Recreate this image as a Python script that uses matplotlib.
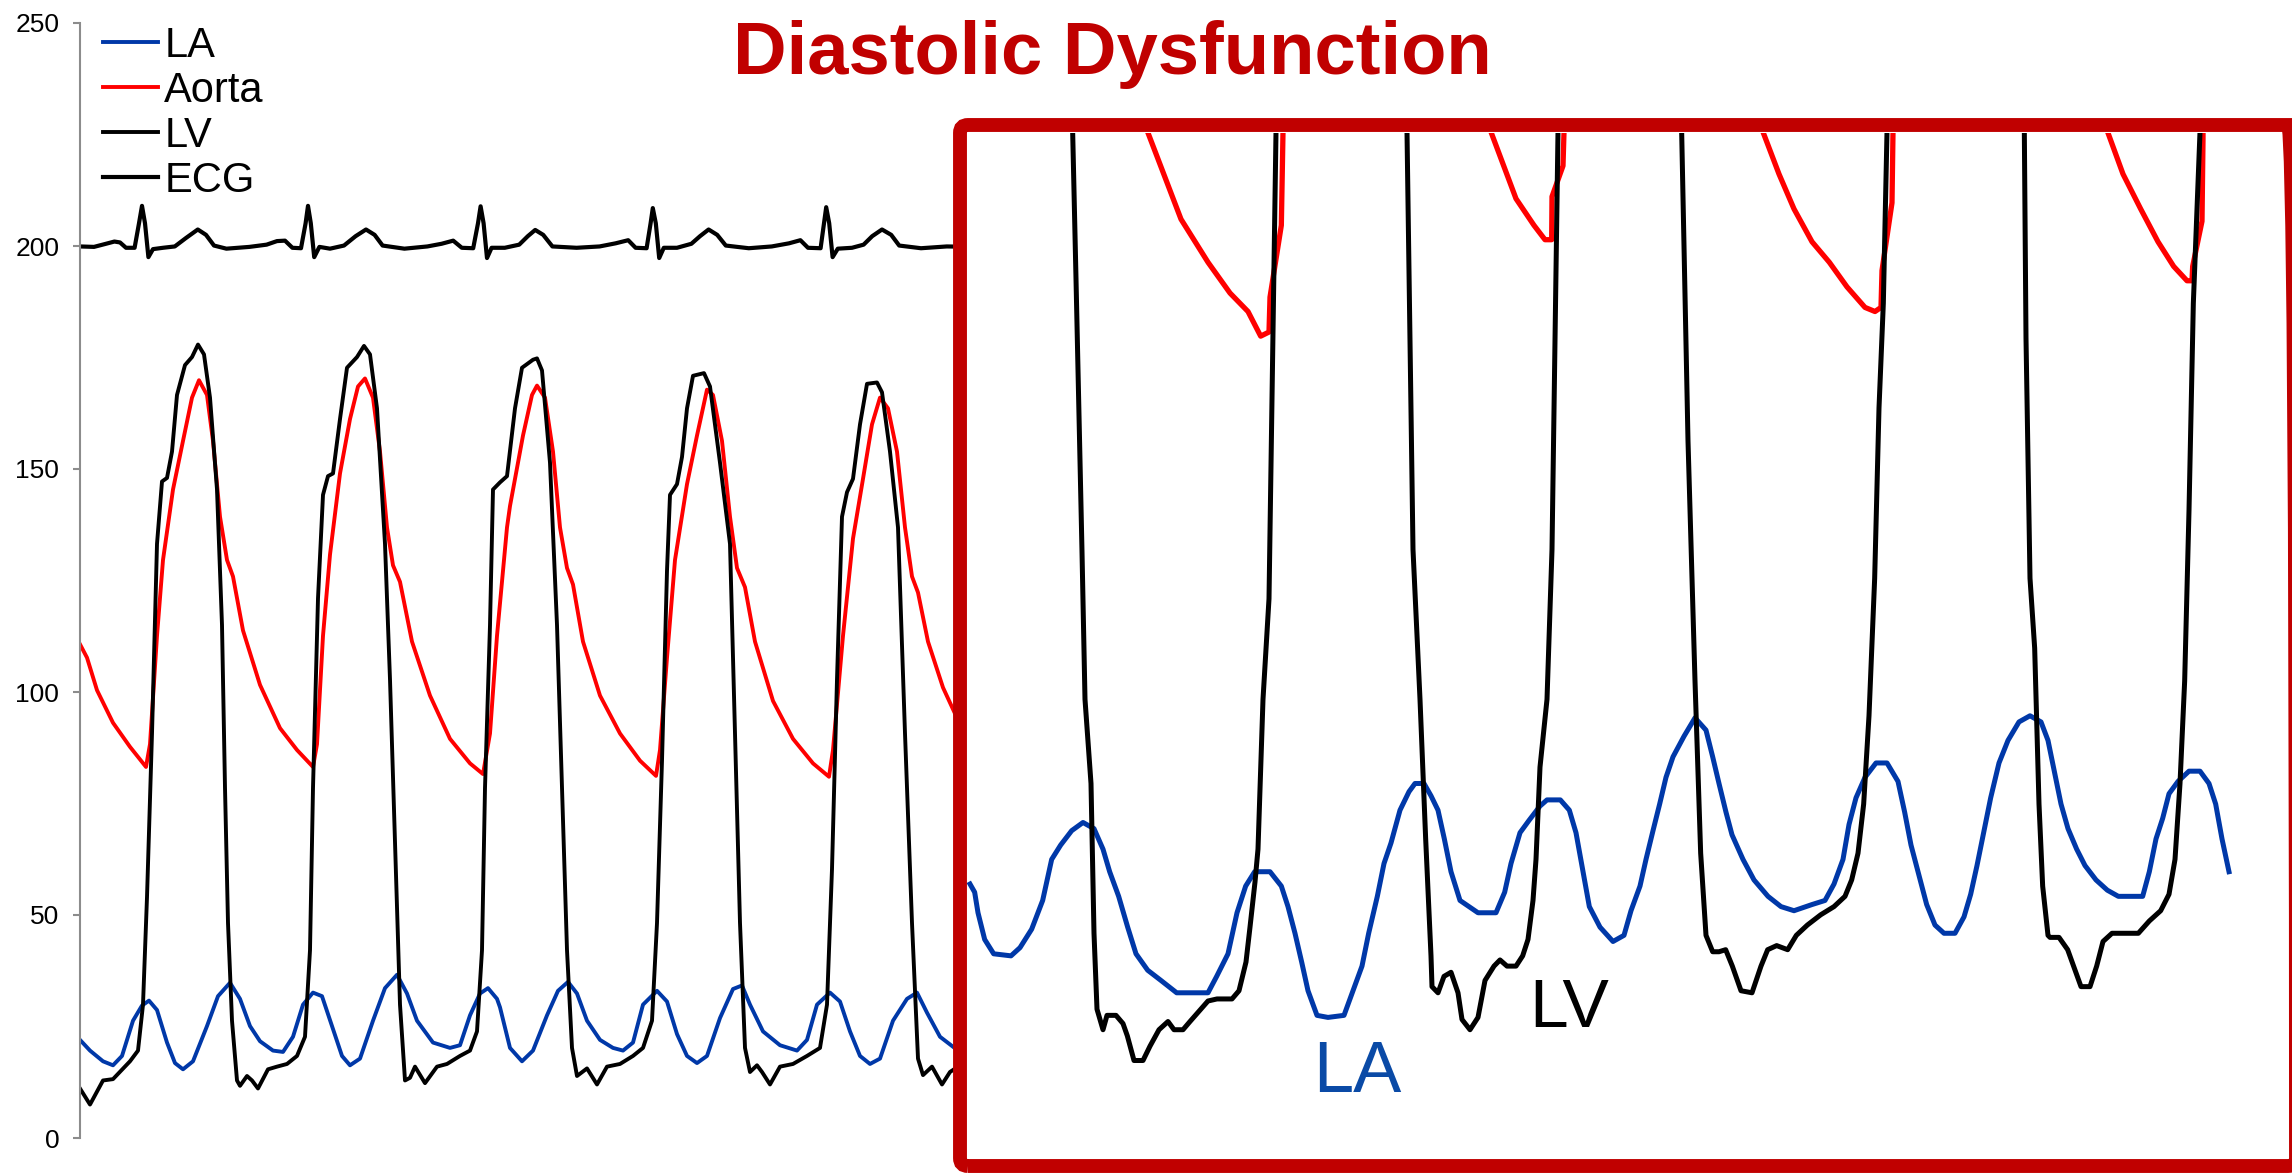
import matplotlib
matplotlib.use("Agg")
import matplotlib.pyplot as plt
from matplotlib.patches import FancyBboxPatch

plt.rcParams['font.family'] = ['Liberation Sans', 'DejaVu Sans']

# ---- main chart (time in ms, pressure in mmHg) ----
lv_t = [0, 50, 115, 165, 250, 290, 315, 335, 360, 385, 410, 435, 460, 485, 525, 560, 590, 620, 650, 685,
        710, 725, 740, 760, 785, 800, 835, 860, 890, 940, 985, 1035, 1085, 1125, 1150, 1165, 1190, 1215,
        1240, 1265, 1300, 1335, 1385, 1420, 1450, 1485, 1525, 1550, 1575, 1600, 1625, 1650, 1675, 1725,
        1785, 1835, 1900, 1950, 1985, 2010, 2025, 2050, 2065, 2100, 2135, 2175, 2210, 2265, 2285, 2310,
        2350, 2385, 2410, 2435, 2460, 2485, 2535, 2585, 2635, 2700, 2765, 2815, 2860, 2885, 2910, 2935,
        2950, 2985, 3010, 3035, 3065, 3120, 3150, 3200, 3250, 3275, 3300, 3325, 3350, 3385, 3410, 3450,
        3500, 3565, 3635, 3700, 3735, 3760, 3785, 3810, 3835, 3865, 3900, 3935, 3985, 4010, 4050, 4090,
        4125, 4160, 4190, 4215, 4260, 4310, 4350, 4390, 4450, 4525]
lv_p = [11.1, 7.5, 12.9, 13.2, 17.2, 19.6, 29.9, 54, 90.7, 133.2, 147.2, 148, 153.9, 166.6, 173.3, 175.1,
        177.9, 175.7, 166, 145.4, 115, 78.5, 48.2, 26.3, 12.9, 11.7, 13.9, 12.9, 11.1, 15.4, 16, 16.6, 18.4,
        22.7, 42.1, 78.5, 121, 144.2, 148.4, 149, 161.2, 172.7, 175.1, 177.6, 175.7, 163.6, 133.2, 102.8,
        66.4, 29.9, 12.9, 13.5, 16, 12.3, 16, 16.6, 18.4, 19.6, 23.9, 42.1, 78.5, 115, 145.4, 147, 148.4,
        163.6, 172.7, 174.5, 174.8, 172.1, 151.4, 115, 78.5, 42.1, 20.2, 13.9, 15.6, 12, 16, 16.6, 18.4,
        20.2, 26.3, 48.2, 84.6, 127.2, 144.2, 146.6, 152.7, 163.6, 170.9, 171.5, 168.5, 151.4, 133.2, 90.7,
        48.2, 20.2, 14.8, 16.3, 14.8, 12, 16, 16.6, 18.4, 20.2, 29.9, 60.3, 102.8, 139.3, 144.8, 147.8, 160,
        169.1, 169.4, 167.2, 153.9, 136.9, 90.7, 48.2, 17.8, 14.1, 16, 12, 14.8, 16, 17, 19]

ao_t = [0, 35, 85, 165, 250, 330, 350, 385, 415, 465, 515, 560, 595, 635, 665, 700, 735, 765, 815, 900,
        1000, 1085, 1165, 1185, 1215, 1250, 1300, 1350, 1390, 1425, 1465, 1500, 1535, 1565, 1600, 1660,
        1750, 1850, 1950, 2015, 2050, 2085, 2135, 2150, 2215, 2260, 2285, 2325, 2365, 2400, 2435, 2465,
        2515, 2600, 2700, 2800, 2880, 2900, 2935, 2975, 3035, 3085, 3135, 3165, 3210, 3250, 3285, 3325,
        3375, 3465, 3565, 3665, 3745, 3765, 3815, 3865, 3915, 3960, 4000, 4040, 4085, 4125, 4160, 4190,
        4240, 4315, 4390, 4475]
ao_p = [110.7, 107.7, 100.4, 93.1, 87.7, 83.2, 88.3, 112.6, 129.6, 145.4, 156.3, 166, 169.9, 166.6, 156.3,
        139.3, 129.6, 125.9, 113.8, 101.6, 91.9, 87, 83.2, 88.3, 112.6, 130.8, 149, 161.2, 168.5, 170.3,
        166, 153.9, 136.9, 128.4, 124.7, 111.3, 99.2, 89.5, 84, 81.6, 90.7, 112.6, 136.9, 141.7, 157.5,
        166.6, 168.7, 166, 153.9, 136.9, 127.8, 124.1, 111.3, 99.2, 90.7, 84.6, 81.2, 87, 107.7, 129.6,
        146.6, 157.5, 167.8, 166.6, 156.3, 139.3, 127.8, 123.5, 111.3, 98, 89.5, 84, 81, 87, 112.6, 134.4,
        147.8, 160, 166, 163.6, 153.9, 136.9, 125.9, 122.3, 111.3, 101, 93.7, 89]

la_t = [0, 50, 115, 165, 210, 265, 310, 345, 385, 435, 475, 515, 565, 635, 690, 750, 800, 850, 900, 965,
        1015, 1065, 1115, 1165, 1210, 1260, 1310, 1350, 1400, 1465, 1525, 1585, 1635, 1685, 1765, 1850,
        1900, 1950, 2000, 2040, 2085, 2100, 2150, 2210, 2265, 2335, 2390, 2440, 2485, 2535, 2600, 2665,
        2715, 2765, 2815, 2885, 2935, 2985, 3035, 3085, 3135, 3200, 3265, 3310, 3350, 3415, 3500, 3585,
        3635, 3685, 3750, 3800, 3850, 3900, 3950, 4000, 4065, 4135, 4185, 4235, 4300, 4390, 4475]
la_p = [22, 19.6, 17.2, 16.3, 18.4, 26.3, 29.7, 30.8, 28.7, 21.4, 16.8, 15.4, 17.2, 25.1, 31.8, 34.8, 31.2,
        25.1, 21.7, 19.6, 19.3, 22.7, 29.9, 32.6, 31.8, 25.1, 18.4, 16.3, 17.8, 26.3, 33.6, 36.6, 32.4, 26.3,
        21.4, 20.2, 20.8, 27.5, 32.4, 33.6, 31.2, 29.3, 20.2, 17.2, 19.6, 27.5, 33, 35, 32.4, 26.3, 22, 20.2,
        19.6, 21.4, 29.9, 33, 30.6, 23.3, 18.4, 16.8, 18.4, 26.9, 33.4, 34.2, 29.9, 23.9, 20.8, 19.6, 22,
        29.9, 32.6, 30.6, 23.9, 18.4, 16.6, 17.8, 26.3, 31.2, 32.6, 28.1, 22.7, 19.6, 18.5]

ecg_t = [0, 70, 130, 172, 200, 230, 273, 295, 310, 325, 342, 365, 415, 474, 530, 589, 630, 670, 732, 847,
         933, 985, 1025, 1062, 1105, 1128, 1140, 1154, 1171, 1197, 1250, 1320, 1378, 1430, 1473, 1513,
         1622, 1737, 1808, 1866, 1909, 1966, 1990, 2003, 2018, 2035, 2058, 2124, 2196, 2239, 2276, 2316,
         2362, 2483, 2598, 2678, 2741, 2778, 2833, 2853, 2864, 2879, 2896, 2919, 2985, 3057, 3100, 3143,
         3186, 3229, 3344, 3459, 3545, 3602, 3640, 3703, 3720, 3731, 3746, 3763, 3789, 3860, 3918, 3961,
         4010, 4056, 4096, 4205, 4334, 4475]
ecg_v = [199.9, 199.8, 200.5, 201.0, 200.8, 199.6, 199.6, 205.1, 209, 205.1, 197.5, 199.3, 199.6, 199.9,
         201.8, 203.7, 202.5, 200.1, 199.4, 199.8, 200.3, 201.1, 201.2, 199.6, 199.5, 205.1, 209, 205.1,
         197.5, 199.8, 199.4, 200.1, 202.2, 203.7, 202.5, 200.1, 199.4, 199.9, 200.5, 201.2, 199.6, 199.5,
         205.1, 208.9, 205.1, 197.3, 199.6, 199.6, 200.3, 202.2, 203.6, 202.5, 199.9, 199.6, 199.9, 200.6,
         201.3, 199.6, 199.5, 205.1, 208.5, 205.1, 197.3, 199.6, 199.6, 200.5, 202.2, 203.7, 202.5, 200.1,
         199.5, 199.9, 200.6, 201.3, 199.6, 199.5, 205.1, 208.7, 205.1, 197.5, 199.4, 199.6, 200.3, 202.2,
         203.7, 202.5, 200.1, 199.5, 199.9, 199.8]

# ---- zoomed inset (time in ms, pressure in mmHg) ----
zla_t = [12, 26, 36, 56, 83, 135, 162, 197, 230, 257, 284, 317, 351, 384, 411, 431, 458, 485, 510, 545,
         585, 632, 726, 752, 786, 813, 839, 866, 912, 946, 966, 987, 1007, 1026, 1053, 1086, 1134, 1161,
         1188, 1208, 1234, 1254, 1275, 1302, 1329, 1347, 1374, 1395, 1416, 1435, 1455, 1482, 1509, 1536,
         1590, 1616, 1635, 1662, 1689, 1722, 1743, 1783, 1810, 1830, 1851, 1870, 1902, 1941, 1974, 1995,
         2022, 2040, 2061, 2081, 2100, 2121, 2154, 2187, 2220, 2240, 2259, 2280, 2298, 2331, 2364, 2406,
         2445, 2484, 2538, 2577, 2604, 2631, 2649, 2670, 2697, 2730, 2763, 2796, 2816, 2835, 2856, 2882,
         2907, 2934, 2967, 2994, 3014, 3033, 3054, 3074, 3099, 3126, 3159, 3192, 3225, 3246, 3265, 3285,
         3306, 3332, 3357, 3390, 3424, 3457, 3530, 3550, 3570, 3590, 3609, 3636, 3669, 3702, 3729, 3749,
         3768, 3789]
zla_p = [13.4, 13.0, 12.0, 10.7, 10.0, 9.9, 10.3, 11.2, 12.6, 14.6, 15.3, 16.0, 16.4, 16.1, 15.1, 14.0,
         12.8, 11.3, 10.0, 9.2, 8.7, 8.1, 8.1, 8.9, 10.0, 12.0, 13.3, 14.0, 14.0, 13.3, 12.3, 11.0, 9.6, 8.2,
         7.0, 6.9, 7.0, 8.2, 9.4, 11.0, 12.8, 14.4, 15.4, 17.0, 17.9, 18.3, 18.3, 17.7, 17.0, 15.6, 14.0,
         12.6, 12.3, 12.0, 12.0, 13.0, 14.4, 15.9, 16.5, 17.2, 17.5, 17.5, 17.0, 15.9, 14.0, 12.3, 11.3,
         10.6, 10.9, 12.1, 13.3, 14.6, 16.0, 17.3, 18.6, 19.6, 20.6, 21.5, 20.9, 19.6, 18.3, 16.9, 15.8,
         14.6, 13.6, 12.8, 12.3, 12.1, 12.4, 12.6, 13.4, 14.6, 16.3, 17.6, 18.6, 19.3, 19.3, 18.4, 16.9,
         15.3, 14.0, 12.4, 11.4, 11.0, 11.0, 11.8, 12.9, 14.3, 16.0, 17.6, 19.3, 20.4, 21.3, 21.6, 21.3,
         20.4, 18.9, 17.3, 16.1, 15.1, 14.3, 13.6, 13.1, 12.8, 12.8, 14.0, 15.6, 16.6, 17.8, 18.4, 18.9,
         18.9, 18.3, 17.3, 15.6, 14.0]

zlv_t = [300, 320, 330, 348, 357, 375, 384, 393, 411, 423, 450, 471, 484, 504, 531, 552, 579, 606, 624, 651,
         672, 699, 726, 753, 798, 819, 840, 852, 867, 876, 891, 909, 930, 1125, 1323, 1341, 1362, 1379,
         1395, 1398, 1416, 1434, 1455, 1476, 1488, 1512, 1536, 1557, 1584, 1602, 1623, 1650, 1670, 1686,
         1701, 1710, 1722, 1743, 1758, 1776, 1962, 2147, 2166, 2187, 2204, 2220, 2240, 2259, 2279, 2299,
         2325, 2358, 2385, 2405, 2432, 2465, 2491, 2524, 2564, 2604, 2637, 2657, 2676, 2693, 2709, 2726,
         2739, 2752, 2763, 2967, 3175, 3180, 3192, 3206, 3219, 3230, 3246, 3252, 3279, 3305, 3325, 3345,
         3372, 3392, 3411, 3438, 3517, 3550, 3584, 3609, 3627, 3642, 3656, 3669, 3682, 3702, 3747]
zlv_p = [61.4, 50.05, 42.9, 29.6, 22.4, 18.3, 11.0, 7.3, 6.3, 7.0, 7.0, 6.6, 6.0, 4.8, 4.8, 5.5, 6.3, 6.7,
         6.3, 6.3, 6.7, 7.2, 7.7, 7.8, 7.8, 8.2, 9.6, 11.3, 13.5, 15.1, 22.4, 27.3, 50.05, 129, 50.05, 29.7,
         22.4, 15.6, 9.9, 8.4, 8.1, 8.9, 9.1, 8.1, 6.8, 6.3, 6.9, 8.7, 9.4, 9.7, 9.4, 9.4, 9.9, 10.7, 12.6,
         14.6, 19.1, 22.4, 29.7, 50.05, 129, 50.05, 35.0, 23.3, 14.9, 10.9, 10.1, 10.1, 10.2, 9.4, 8.2, 8.1,
         9.4, 10.2, 10.4, 10.2, 10.9, 11.4, 11.9, 12.3, 12.8, 13.6, 14.9, 17.3, 21.6, 28.3, 36.6, 41.7,
         50.05, 129, 50.05, 40.0, 28.3, 24.9, 17.3, 13.3, 10.9, 10.8, 10.8, 10.2, 9.3, 8.4, 8.4, 9.4, 10.6,
         11.0, 11.0, 11.6, 12.1, 12.9, 14.6, 18.3, 23.3, 31.6, 41.7, 50.05, 95]

zao_t = [522, 545, 645, 726, 792, 846, 884, 909, 912, 946, 951, 957, 1542, 1575, 1650, 1704, 1737, 1757,
         1758, 1791, 1794, 1800, 2367, 2391, 2439, 2484, 2538, 2590, 2643, 2697, 2727, 2745, 2748, 2778,
         2781, 2787, 3402, 3425, 3471, 3524, 3576, 3623, 3663, 3678, 3680, 3708, 3711, 3714]
zao_p = [59, 50.05, 45.8, 43.7, 42.2, 41.3, 40.1, 40.3, 42.0, 45.5, 50.05, 61.4, 61.4, 50.05, 46.8, 45.5,
         44.8, 44.8, 46.9, 48.4, 50.05, 61.4, 61.4, 50.05, 48.0, 46.3, 44.7, 43.7, 42.5, 41.5, 41.3, 41.5,
         43.3, 46.6, 50.05, 61.4, 61.4, 50.05, 48.0, 46.3, 44.7, 43.5, 42.8, 42.8, 43.5, 45.7, 49.7, 61.4]

BLUE = '#0038A8'
RED = '#FF0000'
DARKRED = '#C00000'

W, H = 2292, 1173
fig = plt.figure(figsize=(W / 100, H / 100), dpi=100)

ax = fig.add_axes([80 / W, 35 / H, 2170 / W, 1115 / H])
ax.plot(la_t, la_p, color=BLUE, lw=2.8, label='LA', solid_joinstyle='round')
ax.plot(ao_t, ao_p, color=RED, lw=2.8, label='Aorta', solid_joinstyle='round')
ax.plot(lv_t, lv_p, color='black', lw=2.8, label='LV', solid_joinstyle='round')
ax.plot(ecg_t, ecg_v, color='black', lw=3.0, label='ECG', solid_joinstyle='round')
ax.set_xlim(0, 10850)
ax.set_ylim(0, 250)
ax.set_yticks([0, 50, 100, 150, 200, 250])
ax.set_xticks([])
for s in ['top', 'right', 'bottom']:
    ax.spines[s].set_visible(False)
ax.spines['left'].set_color('#8c8c8c')
ax.spines['left'].set_linewidth(1.5)
ax.tick_params(axis='y', length=5, width=1.5, color='#8c8c8c', labelsize=19, pad=10)

ax.legend(loc='upper left', bbox_to_anchor=(103 / W, 1 - 26 / H), bbox_transform=fig.transFigure,
          frameon=False, fontsize=30, borderpad=0, borderaxespad=0, handlelength=1.33,
          handletextpad=0.14, labelspacing=0.12)

fig.text(1112 / W, 1 - 74 / H, 'Diastolic Dysfunction', color=DARKRED, fontsize=53.5,
         fontweight='bold', ha='center', va='baseline')

# inset with the zoomed diastolic pressures
ins = fig.add_axes([966 / W, 14 / H, 1323 / W, 1026 / H])
ins.set_zorder(2)
ins.set_facecolor('white')
ins.plot(zla_t, zla_p, color=BLUE, lw=3.6)
ins.plot(zao_t, zao_p, color=RED, lw=3.8)
ins.plot(zlv_t, zlv_p, color='black', lw=3.6)
ins.set_xlim(0, 3969)
ins.set_ylim(0, 50)
for s in ins.spines.values():
    s.set_visible(False)
ins.set_xticks([])
ins.set_yticks([])
ins.text(1041, 3.27, 'LA', color='#0A4AA6', fontsize=52, ha='left', va='baseline')
ins.text(1689, 6.44, 'LV', color='black', fontsize=50, ha='left', va='baseline')

box = FancyBboxPatch((9.60, 0.07), 13.36, 10.41, boxstyle='round,pad=0,rounding_size=0.08',
                     transform=fig.dpi_scale_trans, facecolor='none', edgecolor=DARKRED,
                     linewidth=10, zorder=3)
fig.patches.append(box)

fig.savefig('out.png', dpi=100)
